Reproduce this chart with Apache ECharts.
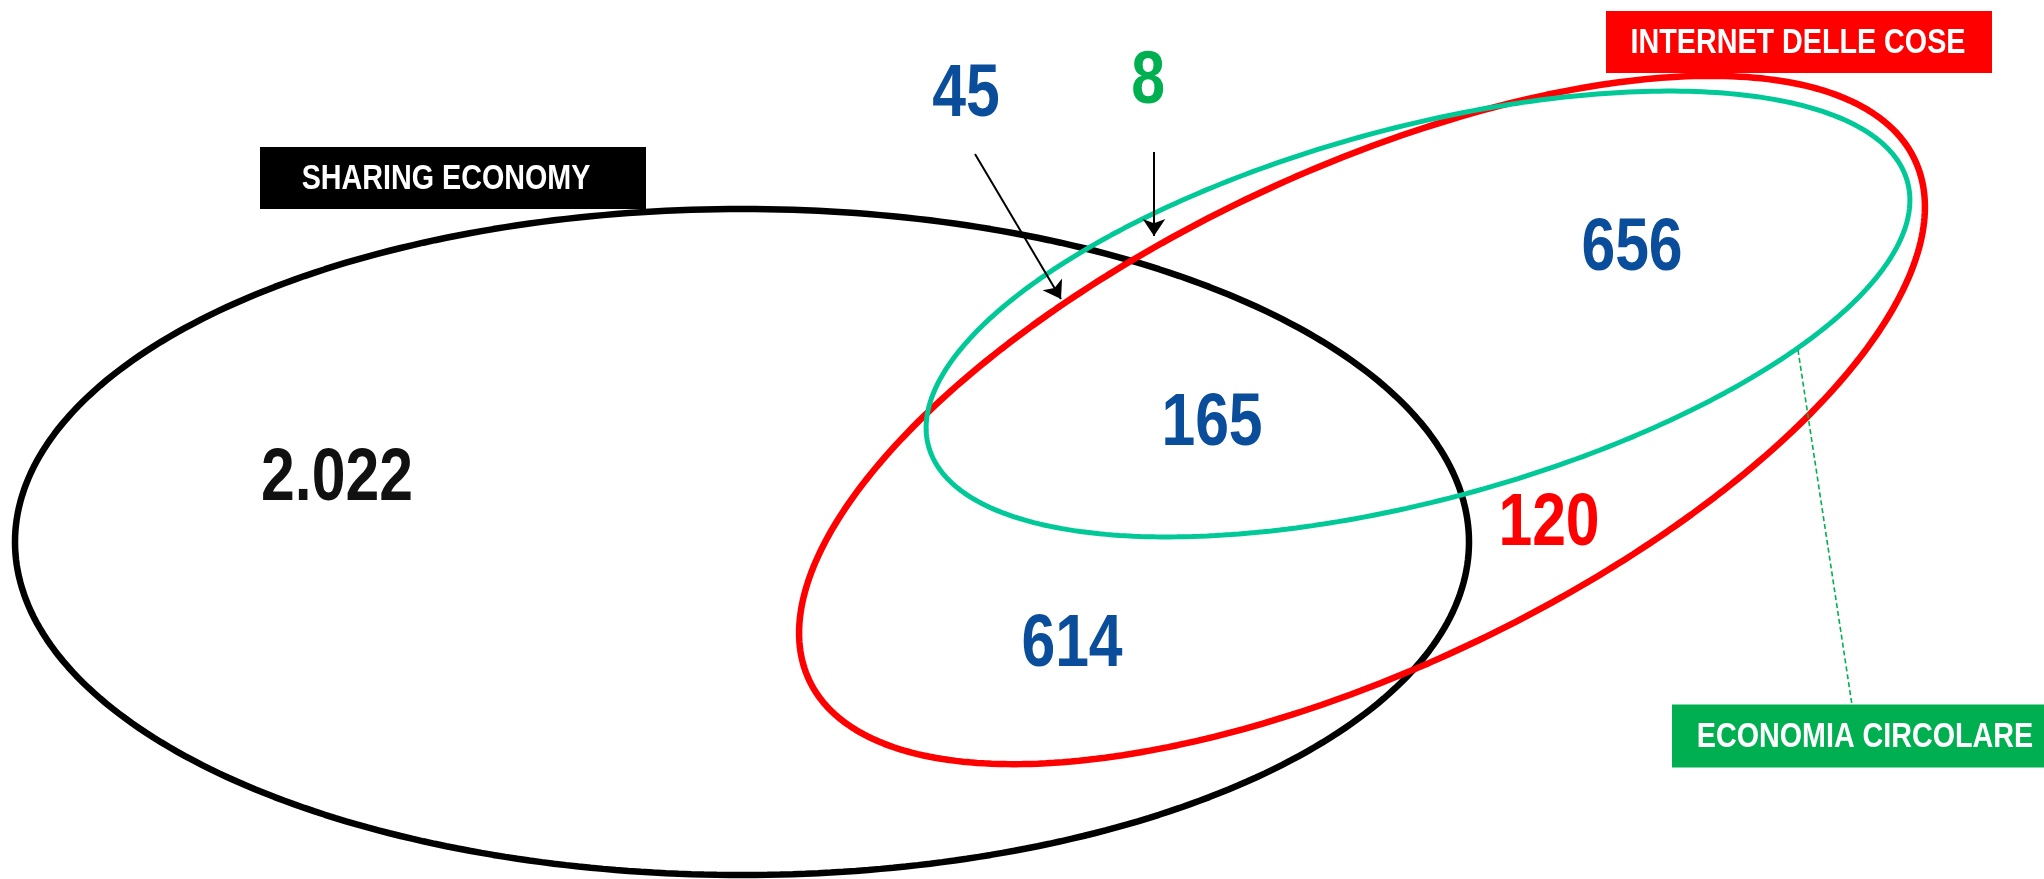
<!DOCTYPE html>
<html>
<head>
<meta charset="utf-8">
<script src="https://cdn.jsdelivr.net/npm/echarts@6/dist/echarts.min.js"></script>
<style>
  html, body { margin: 0; padding: 0; background: #fff; }
  #chart { width: 2044px; height: 879px; }
</style>
</head>
<body>
<div id="chart"></div>
<script>
// ---------- DATA ----------
const setNames = ['SHARING ECONOMY', 'INTERNET DELLE COSE', 'ECONOMIA CIRCOLARE'];
const regionNames = [
  'Solo Sharing Economy',
  'Sharing Economy + Internet delle cose',
  'Tutti e tre',
  'Internet delle cose + Economia circolare',
  'Solo Internet delle cose',
  'Sharing Economy + Economia circolare',
  'Solo Economia circolare'
];
const regionCounts = [2022, 614, 165, 656, 120, 45, 8];

// ---------- LAYOUT (pixel space of a hidden 2044x879 cartesian grid) ----------
const W = 2044, H = 879;
const FONT = '"Liberation Sans", Arial, sans-serif';
const NARROW = 0.82;   // horizontal squeeze to mimic a narrow bold face
const ellipseLayout = [
  { cx: 742,  cy: 542, a: 727, b: 333, angle: 0,    color: '#000000', width: 6.5 },
  { cx: 1362, cy: 420, a: 611, b: 249, angle: 25.2, color: '#FF0000', width: 6.5 },
  { cx: 1418, cy: 314, a: 507, b: 186, angle: 15.1, color: '#00C896', width: 5 }
];
const setBoxLayout = [
  { x: 453,  y: 178, w: 386, h: 62, bg: '#000000', tx: 446 },
  { x: 1799, y: 42,  w: 386, h: 62, bg: '#FF0000', tx: 1798 },
  { x: 1865, y: 736, w: 386, h: 63, bg: '#00B050', tx: 1865 }
];
const regionLayout = [
  { x: 337,  y: 477, color: '#111111' },
  { x: 1072, y: 643, color: '#0A4D9A' },
  { x: 1212, y: 422, color: '#0A4D9A' },
  { x: 1632, y: 247, color: '#0A4D9A' },
  { x: 1549, y: 522, color: '#FF0000' },
  { x: 966,  y: 93,  color: '#0A4D9A' },
  { x: 1148, y: 80,  color: '#00B050' }
];
const arrowLayout = [
  [[975, 154], [1061, 299]],
  [[1154, 152], [1154, 236]]
];
const leaderLayout = [[[1798, 350], [1852, 705]]];

function fmt(n) { return String(n).replace(/\B(?=(\d{3})+(?!\d))/g, '.'); }

function ellipsePoints(e) {
  const pts = [];
  const th = e.angle * Math.PI / 180;
  for (let i = 0; i <= 360; i++) {
    const t = i * Math.PI / 180;
    const ux = e.a * Math.cos(t), uy = e.b * Math.sin(t);
    pts.push([e.cx + ux * Math.cos(th) - uy * Math.sin(th),
              e.cy - (ux * Math.sin(th) + uy * Math.cos(th))]);
  }
  return pts;
}

const series = [];
ellipseLayout.forEach((e, i) => {
  series.push({
    type: 'line', name: setNames[i], data: ellipsePoints(e),
    showSymbol: false, symbol: 'none', smooth: false, silent: true,
    lineStyle: { color: e.color, width: e.width }, z: 2 + i
  });
});
series.push({
  type: 'lines', coordinateSystem: 'cartesian2d', silent: true,
  data: leaderLayout.map(c => ({ coords: c })),
  symbol: 'none',
  lineStyle: { color: '#00B050', width: 1.6, type: [5, 3], opacity: 1 }, z: 6
});
series.push({
  type: 'lines', coordinateSystem: 'cartesian2d', silent: true,
  data: arrowLayout.map(c => ({ coords: c })),
  symbol: ['none', 'arrow'], symbolSize: [14, 17],
  lineStyle: { color: '#000000', width: 2, opacity: 1 }, z: 7
});
// region counts
series.push({
  type: 'custom', silent: true, z: 8,
  data: regionCounts.map((v, i) => ({ name: regionNames[i], value: [regionLayout[i].x, regionLayout[i].y, v] })),
  renderItem: (params, api) => {
    const p = api.coord([api.value(0), api.value(1)]);
    const lay = regionLayout[params.dataIndex];
    return {
      type: 'text', x: p[0], y: p[1] + 3, scaleX: NARROW, scaleY: 1,
      style: {
        text: fmt(api.value(2)), fill: lay.color,
        font: 'bold 74px ' + FONT,
        align: 'center', verticalAlign: 'middle',
        textAlign: 'center', textVerticalAlign: 'middle'
      }
    };
  }
});
// set name boxes
series.push({
  type: 'custom', silent: true, z: 9,
  data: setNames.map((n, i) => ({ name: n, value: [setBoxLayout[i].x, setBoxLayout[i].y] })),
  renderItem: (params, api) => {
    const b = setBoxLayout[params.dataIndex];
    const p = api.coord([api.value(0), api.value(1)]);
    const tp = api.coord([b.tx, api.value(1)]);
    return {
      type: 'group',
      children: [
        { type: 'rect', shape: { x: p[0] - b.w / 2, y: p[1] - b.h / 2, width: b.w, height: b.h },
          style: { fill: b.bg } },
        { type: 'text', x: tp[0], y: tp[1] + 1, scaleX: NARROW, scaleY: 1,
          style: { text: setNames[params.dataIndex], fill: '#FFFFFF', font: 'bold 35px ' + FONT,
                   align: 'center', verticalAlign: 'middle',
                   textAlign: 'center', textVerticalAlign: 'middle' } }
      ]
    };
  }
});

const chart = echarts.init(document.getElementById('chart'), null, { renderer: 'canvas' });
chart.setOption({
  animation: false,
  backgroundColor: '#FFFFFF',
  grid: { left: 0, right: 0, top: 0, bottom: 0 },
  xAxis: { type: 'value', min: 0, max: W, show: false },
  yAxis: { type: 'value', min: 0, max: H, inverse: true, show: false },
  series: series
});
</script>
</body>
</html>
